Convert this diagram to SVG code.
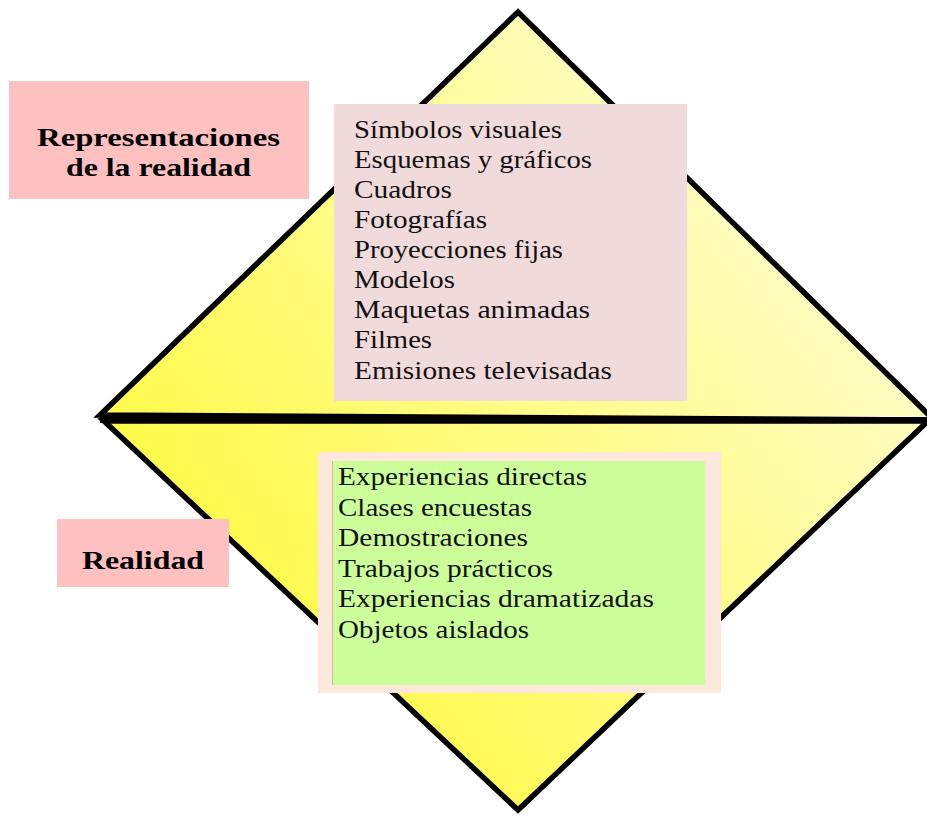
<svg xmlns="http://www.w3.org/2000/svg" width="927" height="816" viewBox="0 0 927 816">
  <defs>
    <linearGradient id="yellow" gradientUnits="userSpaceOnUse" x1="250" y1="650" x2="800" y2="200">
      <stop offset="0" stop-color="#FFFA45"/>
      <stop offset="1" stop-color="#FFFDC8"/>
    </linearGradient>
  </defs>
  <style>
    .tri { fill: url(#yellow); stroke: #000; stroke-width: 5.5; stroke-linejoin: miter; }
    .title { font-family: "Liberation Serif", "DejaVu Serif", serif; font-weight: bold; font-size: 26px; fill: #000; }
    .item { font-family: "Liberation Serif", "DejaVu Serif", serif; font-size: 26px; fill: #111; }
    .label { fill: #FFC0C0; }
  </style>
  <g id="diamond">
    <polygon class="tri" points="100,415 518,12 934,420"/>
    <polygon class="tri" points="104,421 928,421 518,810"/>
  </g>
  <g id="connectors">
    <line x1="100" y1="420" x2="927" y2="420" stroke="#000" stroke-width="6"/>
  </g>
  <g id="node-representaciones">
    <rect class="label" x="9" y="81" width="300" height="118"/>
    <text class="title" x="37" y="146" textLength="243" lengthAdjust="spacingAndGlyphs">Representaciones</text>
    <text class="title" x="66" y="176" textLength="185" lengthAdjust="spacingAndGlyphs">de la realidad</text>
  </g>
  <g id="node-lista-representaciones">
    <rect x="334" y="104" width="353" height="297" fill="#F0DADA"/>
    <text class="item" x="354" y="138" textLength="208" lengthAdjust="spacingAndGlyphs">Símbolos visuales</text>
    <text class="item" x="354" y="168" textLength="238" lengthAdjust="spacingAndGlyphs">Esquemas y gráficos</text>
    <text class="item" x="354" y="198" textLength="98" lengthAdjust="spacingAndGlyphs">Cuadros</text>
    <text class="item" x="354" y="228" textLength="133" lengthAdjust="spacingAndGlyphs">Fotografías</text>
    <text class="item" x="354" y="258" textLength="209" lengthAdjust="spacingAndGlyphs">Proyecciones fijas</text>
    <text class="item" x="354" y="288" textLength="101" lengthAdjust="spacingAndGlyphs">Modelos</text>
    <text class="item" x="354" y="318" textLength="236" lengthAdjust="spacingAndGlyphs">Maquetas animadas</text>
    <text class="item" x="354" y="348" textLength="78" lengthAdjust="spacingAndGlyphs">Filmes</text>
    <text class="item" x="354" y="379" textLength="258" lengthAdjust="spacingAndGlyphs">Emisiones televisadas</text>
  </g>
  <g id="node-lista-realidad">
    <rect x="318" y="452" width="403" height="241" fill="#FCE8DC"/>
    <rect x="332" y="461" width="373" height="224" fill="#CCFF99"/>
    <line x1="332.5" y1="461" x2="332.5" y2="685" stroke="#C8B8A8" stroke-width="1"/>
    <text class="item" x="338" y="485" textLength="249" lengthAdjust="spacingAndGlyphs">Experiencias directas</text>
    <text class="item" x="338" y="515.6" textLength="194" lengthAdjust="spacingAndGlyphs">Clases encuestas</text>
    <text class="item" x="338" y="546.2" textLength="190" lengthAdjust="spacingAndGlyphs">Demostraciones</text>
    <text class="item" x="338" y="576.8" textLength="215" lengthAdjust="spacingAndGlyphs">Trabajos prácticos</text>
    <text class="item" x="338" y="607.4" textLength="316" lengthAdjust="spacingAndGlyphs">Experiencias dramatizadas</text>
    <text class="item" x="338" y="638" textLength="191" lengthAdjust="spacingAndGlyphs">Objetos aislados</text>
  </g>
  <g id="node-realidad">
    <rect class="label" x="57" y="519" width="172" height="68"/>
    <text class="title" x="82" y="569" textLength="122" lengthAdjust="spacingAndGlyphs">Realidad</text>
  </g>
</svg>
